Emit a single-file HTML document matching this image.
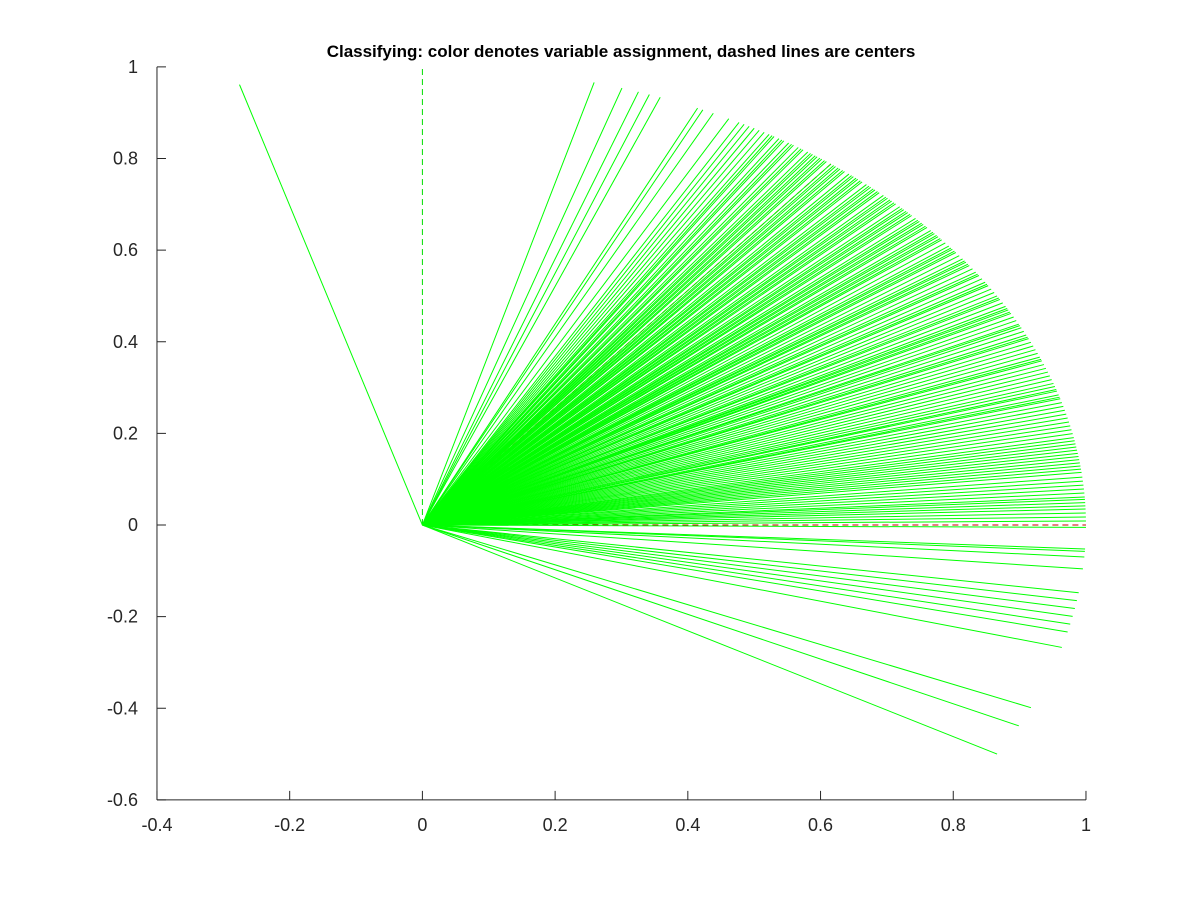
<!DOCTYPE html>
<html><head><meta charset="utf-8"><style>
html,body{margin:0;padding:0;background:#fff}
svg{display:block;font-family:"Liberation Sans",Arial,sans-serif}
</style></head><body>
<svg id="chart" width="1200" height="900">
<rect width="1200" height="900" fill="#fff"/>
<text x="621" y="57" text-anchor="middle" font-size="17" font-weight="bold" fill="#000">Classifying: color denotes variable assignment, dashed lines are centers</text>
<g id="centers"></g>
<g id="lines"></g>
<g id="axes"></g>
</svg>
<script>
const xTicks=[-0.4,-0.2,0,0.2,0.4,0.6,0.8,1];
const xTickLabels=['-0.4','-0.2','0','0.2','0.4','0.6','0.8','1'];
const yTicks=[-0.6,-0.4,-0.2,0,0.2,0.4,0.6,0.8,1];
const yTickLabels=['-0.6','-0.4','-0.2','0','0.2','0.4','0.6','0.8','1'];
const vectorAngles=[106,75,72.5,71,70,69,65.5,65,64,62.5,61.5,61,60.5,60,59.5,59,58.5,58,57.5,57,56.5,56,55.5,55,54.5,54,53.5,53,52.5,52,51.5,51,50.5,50,49.5,49,48.5,48,47.5,47,46.5,46,45.5,45,44.5,44,43.5,43,42.5,42,41.5,41,40.5,40,39.5,39,38.5,38,37.5,37,36.5,36,35.5,35,34.5,34,33.5,33,32.5,32,31.5,31,30.5,30,29.5,29,28.5,28,27.5,27,26.5,26,25.8,25.5,25,24.5,24,23.5,23,22.5,22,21.5,21,20.5,20,19.5,19,18.5,18,17.6,17.2,17,16.5,16,15.5,15,14.5,14,13.5,13,12.5,12,11.5,11,10.6,10.2,9.8,9.4,9,8.6,8.2,7.8,7.4,7,6.6,6,5.5,5,4.5,4,3.5,3.2,2.8,2.4,2,1.5,1,0.5,-0.3,-3,-3.3,-4,-5.5,-8.5,-9.5,-10.5,-11.5,-12.5,-13.5,-15.5,-23.5,-26,-30,55.2,53.2,51.2,49.2,47.2,45.2,43.2,41.2,39.2,37.2,35.2,33.2,28.2,24.2,21.2,16.2,
58.2,57.2,56.2,54.2,53.7,52.7,51.7,50.7,49.7,48.7,47.7,46.7,45.7,44.7,43.7,42.7,41.7,40.7,39.7,38.7,36.7,34.7,31.7,29.7,27.7];
const centerAngles=[90,52,0];
const centerColors=['#00dd00','#cc2200','#cc0000'];
const X0=422.4, XS=929/1.4, Y0=525, YS=733/1.6;
const sx=v=>X0+v*XS, sy=v=>Y0-v*YS;
const NS='http://www.w3.org/2000/svg';
const lg=document.getElementById('lines');
vectorAngles.forEach((a,i)=>{const r=a*Math.PI/180;const l=document.createElementNS(NS,'line');
l.setAttribute('x1',sx(0));l.setAttribute('y1',sy(0));l.setAttribute('x2',sx(Math.cos(r)));l.setAttribute('y2',sy(Math.sin(r)));
l.setAttribute('stroke','#00ff00');l.setAttribute('stroke-width','1');


lg.appendChild(l);});
const cg=document.getElementById('centers');
centerAngles.forEach((a,i)=>{const r=a*Math.PI/180;const l=document.createElementNS(NS,'line');
l.setAttribute('x1',sx(0));l.setAttribute('y1',sy(0));l.setAttribute('x2',sx(Math.cos(r)));l.setAttribute('y2',sy(Math.sin(r)));
l.setAttribute('stroke',centerColors[i]);l.setAttribute('stroke-width','1');l.setAttribute('stroke-dasharray','6,4');


cg.appendChild(l);});
const ax=document.getElementById('axes');
function add(tag,attrs,txt,name){const e=document.createElementNS(NS,tag);for(const k in attrs)e.setAttribute(k,attrs[k]);if(txt!==undefined)e.textContent=txt;


ax.appendChild(e);}
add('line',{x1:sx(-0.4),y1:sy(-0.6),x2:sx(1),y2:sy(-0.6),stroke:'#262626','stroke-width':1},undefined,'x-axis');
add('line',{x1:sx(-0.4),y1:sy(-0.6),x2:sx(-0.4),y2:sy(1),stroke:'#262626','stroke-width':1},undefined,'y-axis');
xTicks.forEach((v,i)=>{add('line',{x1:sx(v),y1:sy(-0.6),x2:sx(v),y2:sy(-0.6)-9,stroke:'#262626'},undefined,'x-tick');
add('text',{x:sx(v),y:sy(-0.6)+31,'text-anchor':'middle','font-size':18,fill:'#262626'},xTickLabels[i],'x-tick-label');});
yTicks.forEach((v,i)=>{add('line',{x1:sx(-0.4),y1:sy(v),x2:sx(-0.4)+9,y2:sy(v),stroke:'#262626'},undefined,'y-tick');
add('text',{x:sx(-0.4)-19,y:sy(v)+6,'text-anchor':'end','font-size':18,fill:'#262626'},yTickLabels[i],'y-tick-label');});
</script>
</body></html>
